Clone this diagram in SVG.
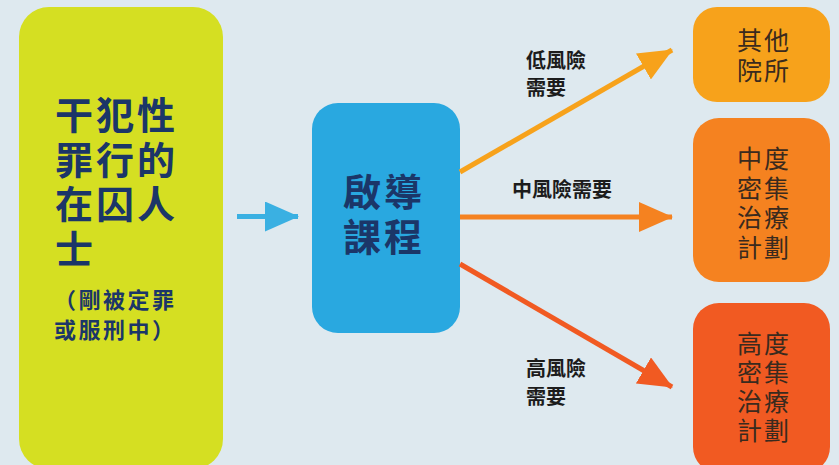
<svg xmlns="http://www.w3.org/2000/svg" width="839" height="465" viewBox="0 0 839 465">
<defs>
<style>
.cjk{font-family:"Noto Sans CJK TC","Noto Sans CJK SC",sans-serif}
.big{font-size:38px;font-weight:700;fill:#1b3668;letter-spacing:3px}
.sub{font-size:22px;font-weight:700;fill:#1b3668;letter-spacing:2.5px}
.box{font-size:25px;font-weight:400;fill:#3a2a1e;letter-spacing:2px}
.lbl{font-size:20px;font-weight:700;fill:#1c1c1c}
.shaft{stroke-width:5;fill:none}
</style>
<marker id="hBlue" markerUnits="userSpaceOnUse" markerWidth="34" markerHeight="30" refX="33" refY="15" orient="auto"><path d="M0,0 L34,15 L0,30 z" fill="#3ab0e2"/></marker>
<marker id="hLow" markerUnits="userSpaceOnUse" markerWidth="34" markerHeight="30" refX="33" refY="15" orient="auto"><path d="M0,0 L34,15 L0,30 z" fill="#f7a21b"/></marker>
<marker id="hMid" markerUnits="userSpaceOnUse" markerWidth="34" markerHeight="30" refX="33" refY="15" orient="auto"><path d="M0,0 L34,15 L0,30 z" fill="#f58220"/></marker>
<marker id="hHigh" markerUnits="userSpaceOnUse" markerWidth="34" markerHeight="30" refX="33" refY="15" orient="auto"><path d="M0,0 L34,15 L0,30 z" fill="#f15a22"/></marker>
</defs>
<rect width="839" height="465" fill="#dee9ef"/>
<g id="offenders">
<rect x="19" y="7" width="204" height="462" rx="30" fill="#d5df22"/>
<text class="cjk big" x="55" y="129">干犯性</text>
<text class="cjk big" x="55" y="173.5">罪行的</text>
<text class="cjk big" x="55" y="218">在囚人</text>
<text class="cjk big" x="55" y="262.5">士</text>
<text class="cjk sub" x="54" y="308">（剛被定罪</text>
<text class="cjk sub" x="54" y="338">或服刑中）</text>
</g>
<g id="induction">
<rect x="312" y="103" width="148" height="230" rx="26" fill="#29a8e0"/>
<text class="cjk big" x="343" y="206">啟導</text>
<text class="cjk big" x="343" y="251">課程</text>
</g>
<g id="other">
<rect x="693" y="7" width="137" height="95" rx="24" fill="#f7a21b"/>
<text class="cjk box" x="737" y="50">其他</text>
<text class="cjk box" x="737" y="80">院所</text>
</g>
<g id="medium">
<rect x="693" y="118" width="137" height="164" rx="26" fill="#f58220"/>
<text class="cjk box" x="737" y="168">中度</text>
<text class="cjk box" x="737" y="197.5">密集</text>
<text class="cjk box" x="737" y="227">治療</text>
<text class="cjk box" x="737" y="256.5">計劃</text>
</g>
<g id="high">
<rect x="693" y="303" width="137" height="170" rx="26" fill="#f15a22"/>
<text class="cjk box" x="737" y="353">高度</text>
<text class="cjk box" x="737" y="382">密集</text>
<text class="cjk box" x="737" y="411">治療</text>
<text class="cjk box" x="737" y="440">計劃</text>
</g>
<g id="connectors">
<line class="shaft" x1="237" y1="216.5" x2="298" y2="216.5" stroke="#3ab0e2" marker-end="url(#hBlue)"/>
<line class="shaft" x1="460" y1="172" x2="672" y2="50" stroke="#f7a21b" marker-end="url(#hLow)"/>
<line class="shaft" x1="460" y1="217" x2="672" y2="217" stroke="#f58220" marker-end="url(#hMid)"/>
<line class="shaft" x1="460" y1="264" x2="672" y2="387" stroke="#f15a22" marker-end="url(#hHigh)"/>
<text class="cjk lbl" x="526" y="67.5">低風險</text>
<text class="cjk lbl" x="526" y="95">需要</text>
<text class="cjk lbl" x="512" y="197">中風險需要</text>
<text class="cjk lbl" x="526" y="375.5">高風險</text>
<text class="cjk lbl" x="526" y="404">需要</text>
</g>
</svg>
